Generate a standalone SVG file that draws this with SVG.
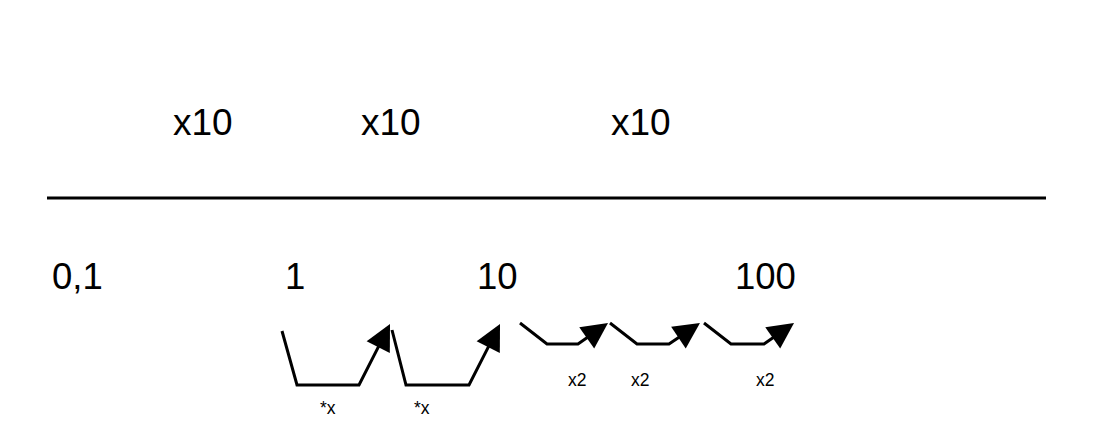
<svg xmlns="http://www.w3.org/2000/svg" width="1113" height="436" viewBox="0 0 1113 436">
<style>
text{font-family:"Liberation Sans",Arial,sans-serif;fill:#000}
.big{font-size:37px}
.num{font-size:36.5px}
.small{font-size:17.5px}
.conn{fill:none;stroke:#000;stroke-width:3;stroke-linejoin:miter}
</style>
<defs>
<marker id="ah" markerUnits="userSpaceOnUse" viewBox="-28 -15 30 30" markerWidth="30" markerHeight="30" refX="-6" refY="0" orient="auto" overflow="visible">
<path d="M0,0 L-26,-13 L-26,13 Z" fill="#000"/>
</marker>
</defs>
<rect width="1113" height="436" fill="#fff"/>
<g id="axis">
<line x1="47" y1="198" x2="1046" y2="198" stroke="#000" stroke-width="3"/>
</g>
<g id="factor-1"><text class="big" x="173" y="135">x10</text></g>
<g id="factor-2"><text class="big" x="361" y="135">x10</text></g>
<g id="factor-3"><text class="big" x="611" y="135">x10</text></g>
<g id="tick-01"><text class="num" x="52" y="289">0,1</text></g>
<g id="tick-1"><text class="num" x="285" y="289">1</text></g>
<g id="tick-10"><text class="num" x="477" y="289">10</text></g>
<g id="tick-100"><text class="num" x="735" y="289">100</text></g>
<g id="connectors">
<polyline class="conn" points="282,331 297,385 359,385 387.3,329.4" marker-end="url(#ah)"/>
<polyline class="conn" points="392,330 406,385 469,385 497.3,329.4" marker-end="url(#ah)"/>
<polyline class="conn" points="520,323 547,344 578,344 603.1,326.4" marker-end="url(#ah)"/>
<polyline class="conn" points="610,323 637,344 669,344 695,326.4" marker-end="url(#ah)"/>
<polyline class="conn" points="704,323 731,344 764,344 789.1,326.4" marker-end="url(#ah)"/>
</g>
<g id="label-x1"><text class="small" x="320" y="414">*x</text></g>
<g id="label-x2"><text class="small" x="414" y="414">*x</text></g>
<g id="label-x2a"><text class="small" x="568" y="386">x2</text></g>
<g id="label-x2b"><text class="small" x="631" y="386">x2</text></g>
<g id="label-x2c"><text class="small" x="756" y="386">x2</text></g>
</svg>
